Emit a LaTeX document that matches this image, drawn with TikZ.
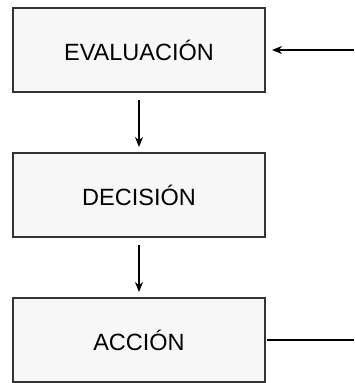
\documentclass[tikz,border=0pt]{standalone}
\usepackage{fontspec}
\setmainfont{Liberation Sans}
\usetikzlibrary{arrows.meta, positioning}

\begin{document}
\begin{tikzpicture}[x=1pt, y=1pt,
    box/.style={draw=black!80, line width=2.2pt, fill=gray!6,
                minimum width=252pt, minimum height=84pt, outer sep=0pt,
                font=\fontsize{23.5}{28}\selectfont, align=center},
    flow/.style={line width=2.2pt, -{Stealth[length=10pt, width=8pt]}},
    >=Stealth
  ]
  \useasboundingbox (0,0) rectangle (354,-383);

  % Steps
  \node[box] (eval) at (139,-50) {EVALUACIÓN};
  \node[box, below=61pt of eval] (dec) {DECISIÓN};
  \node[box, below=61pt of dec] (acc) {ACCIÓN};

  % Loop ends
  \coordinate (entrada) at (354,-50);
  \coordinate (salida) at (354,-341);

  \draw[flow, shorten <=8pt, shorten >=6pt] (eval) -- (dec);
  \draw[flow, shorten <=8pt, shorten >=6pt] (dec) -- (acc);
  \draw[flow, shorten >=7pt] (entrada) -- (eval.east);
  \draw[line width=2.2pt] (acc.east) ++(2pt,0) -- (acc.east -| salida);

\end{tikzpicture}
\end{document}
